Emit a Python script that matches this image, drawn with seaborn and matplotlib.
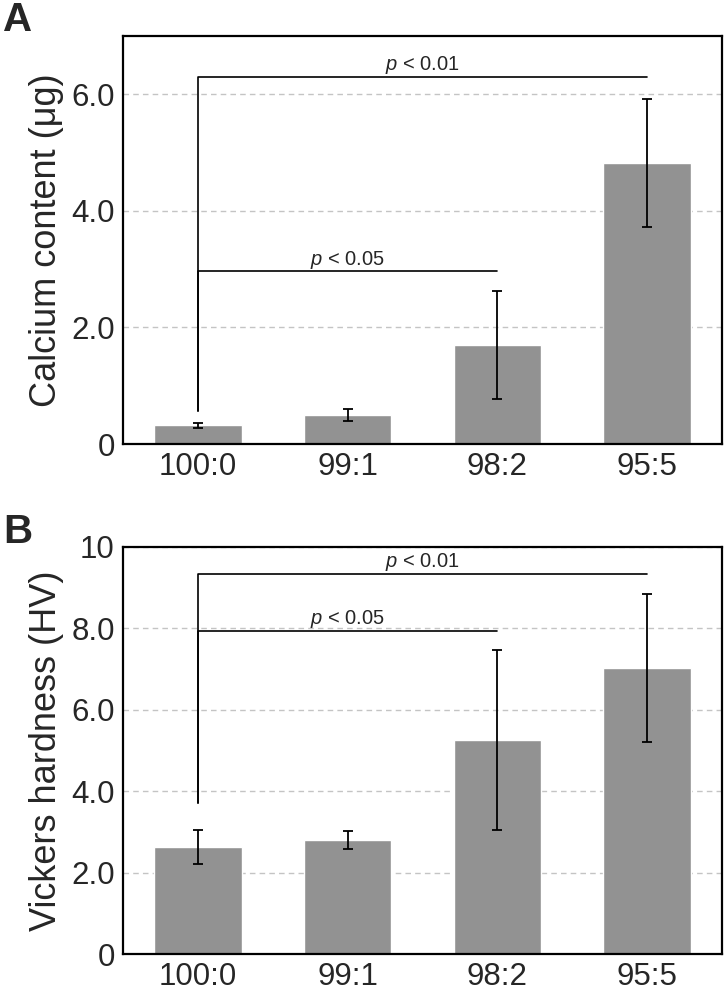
import matplotlib
matplotlib.use("Agg")
import matplotlib.pyplot as plt
import seaborn as sns
import pandas as pd

# Data
groups = ["100:0", "99:1", "98:2", "95:5"]

calcium_mean = [0.32, 0.50, 1.70, 4.82]
calcium_err = [0.04, 0.10, 0.93, 1.10]

hardness_mean = [2.63, 2.80, 5.26, 7.03]
hardness_err = [0.42, 0.23, 2.21, 1.82]

# significance brackets: (from group, to group, bracket height, leg bottom, label)
calcium_sig = [(0, 3, 6.29, 0.57, "< 0.01"), (0, 2, 2.96, 0.57, "< 0.05")]
hardness_sig = [(0, 3, 9.34, 3.70, "< 0.01"), (0, 2, 7.94, 3.70, "< 0.05")]

sns.set_theme(style="white")
plt.rcParams["font.family"] = ["Liberation Sans", "DejaVu Sans"]
plt.rcParams["mathtext.fontset"] = "custom"
plt.rcParams["mathtext.it"] = "Liberation Sans:italic"

bar_color = "#929292"

fig = plt.figure(figsize=(7.25, 9.92), dpi=100)
ax_a = fig.add_axes([0.1697, 0.5524, 0.8262, 0.4113])
ax_b = fig.add_axes([0.1697, 0.0383, 0.8262, 0.4103])


def draw_panel(ax, means, errs, sig, ylim, yticks, yticklabels, ylabel):
    df = pd.DataFrame({"group": groups, "value": means})
    sns.barplot(data=df, x="group", y="value", color=bar_color, saturation=1,
                width=0.585, errorbar=None, ax=ax, zorder=2)
    ax.errorbar(range(len(groups)), means, yerr=errs, fmt="none", ecolor="black",
                elinewidth=1.3, capsize=3.3, capthick=1.3, zorder=3)

    for i, j, h, bottom, label in sig:
        ax.plot([i, i, j], [bottom, h, h], color="black", lw=1.2, zorder=4)
        ax.annotate(r"$\it{p}$ " + label, xy=((i + j) / 2, h), xytext=(0, 5),
                    textcoords="offset points", ha="center", va="baseline",
                    fontsize=14.5)

    ax.set_xlim(-0.5, 3.5)
    ax.set_ylim(*ylim)
    ax.set_yticks(yticks)
    ax.set_yticklabels(yticklabels)
    ax.set_xlabel("")
    ax.set_ylabel(ylabel, fontsize=26, labelpad=5)
    ax.tick_params(axis="both", labelsize=22.5, length=0, pad=6)
    ax.yaxis.grid(True, ls=(0, (4, 3)), color="#c4c4c4", lw=1.0)
    ax.set_axisbelow(True)
    for s in ax.spines.values():
        s.set_visible(True)
        s.set_color("black")
        s.set_linewidth(1.6)


draw_panel(ax_a, calcium_mean, calcium_err, calcium_sig, (0, 7.0),
           [0, 2, 4, 6], ["0", "2.0", "4.0", "6.0"],
           "Calcium content (\u03bcg)")
draw_panel(ax_b, hardness_mean, hardness_err, hardness_sig, (0, 10),
           [0, 2, 4, 6, 8, 10], ["0", "2.0", "4.0", "6.0", "8.0", "10"],
           "Vickers hardness (HV)")

fig.text(0.004, 0.999, "A", fontsize=29, fontweight="bold", va="top", ha="left")
fig.text(0.004, 0.483, "B", fontsize=29, fontweight="bold", va="top", ha="left")

fig.savefig("out.png", dpi=100)
